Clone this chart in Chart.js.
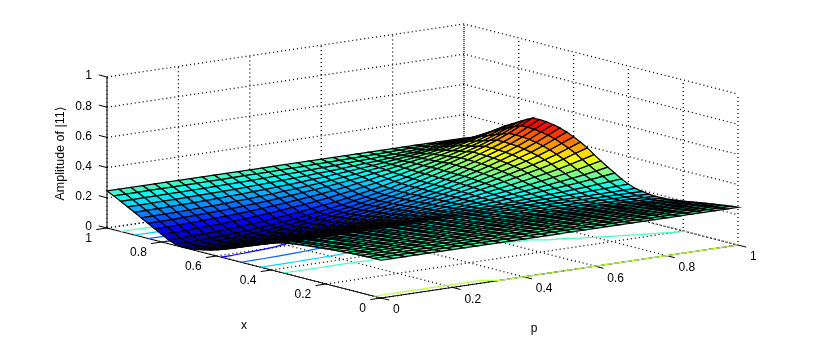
<!DOCTYPE html>
<html>
<head>
<meta charset="utf-8">
<title>Amplitude of |11⟩</title>
<script src="https://cdn.jsdelivr.net/npm/chart.js@4"></script>
<style>
    html, body { margin: 0; padding: 0; background: #fff; }
    canvas { display: block; }
</style>
</head>
<body>
<canvas id="surfaceChart" width="816" height="339"></canvas>
<script>
// tick labels of the three axes
const pTicks = [0, 0.2, 0.4, 0.6, 0.8, 1];
const xTicks = [0, 0.2, 0.4, 0.6, 0.8, 1];
const zTicks = [0, 0.2, 0.4, 0.6, 0.8, 1];
const contourLevels = [0.05, 0.1, 0.15, 0.2, 0.25, 0.3, 0.35, 0.4, 0.45];

// amplitude, in thousandths
// one row per p step (0 to 1 in 30 steps), one value per x step (0 to 1 in 40 steps)
const amplitude = [
    [250,250,249,248,246,243,240,237,233,229,225,220,215,209,203,192,177,160,143,125,108,90,72,55,40,27,17,9,4,3,8,25,50,75,100,125,150,175,200,224,245],
    [250,250,249,248,246,243,240,237,233,229,225,220,215,209,203,192,177,160,143,126,109,91,73,56,41,28,18,10,5,4,9,26,51,76,101,126,151,175,200,224,245],
    [250,250,249,248,246,243,240,237,233,229,225,220,215,209,203,192,177,161,144,126,110,92,75,58,43,30,21,13,8,7,12,29,53,78,102,127,151,176,201,224,245],
    [250,250,249,248,246,243,240,237,233,228,224,219,215,209,203,192,178,161,145,127,111,94,76,60,46,33,23,16,11,10,15,31,56,80,104,128,153,177,201,225,245],
    [250,250,249,248,246,242,239,236,232,228,224,219,214,208,203,192,178,162,146,129,113,96,79,63,49,36,27,19,15,14,19,35,59,83,106,130,154,178,202,225,245],
    [250,250,249,248,245,242,239,236,232,228,224,219,214,208,203,192,178,162,147,130,115,98,82,66,52,40,31,24,19,18,23,39,62,86,109,132,156,179,202,225,245],
    [250,250,249,247,245,242,239,236,232,227,223,218,214,208,203,192,179,163,148,132,117,101,85,70,57,45,36,29,24,24,28,44,67,89,112,135,158,180,203,226,245],
    [250,250,249,247,245,242,238,235,231,227,223,218,213,208,202,192,179,164,150,134,120,105,89,75,62,51,42,35,31,30,35,49,72,94,116,138,160,182,204,226,245],
    [250,250,248,247,245,241,238,235,231,226,222,217,213,207,202,193,180,166,152,137,123,109,94,80,68,57,49,42,38,37,42,56,78,99,121,142,163,184,206,227,245],
    [250,250,248,247,244,241,238,234,230,226,222,217,212,207,202,193,181,167,154,140,127,113,99,86,75,64,57,50,46,46,50,64,84,105,126,146,166,186,207,227,245],
    [250,249,248,246,244,240,237,234,229,225,221,216,212,207,202,193,181,168,156,143,131,118,105,93,82,73,65,59,56,55,59,72,92,112,131,150,170,189,208,228,245],
    [250,249,248,246,243,240,236,233,229,224,220,215,211,206,202,193,182,170,159,147,136,124,112,101,91,82,75,69,66,65,70,82,100,119,137,155,173,192,210,229,245],
    [250,249,248,246,243,239,236,232,228,223,219,214,210,206,201,193,183,172,162,151,141,130,119,109,100,92,86,80,77,77,81,92,109,127,144,161,178,195,212,229,245],
    [250,249,247,245,242,239,235,231,227,223,218,214,209,205,201,194,184,174,165,155,146,136,127,118,110,102,97,92,89,89,93,103,119,135,152,167,182,198,214,230,245],
    [250,249,247,245,242,238,234,231,226,222,217,213,209,204,201,194,185,176,168,159,151,143,135,127,120,113,108,104,102,101,105,114,129,144,159,173,187,201,216,231,245],
    [250,249,247,245,241,237,234,230,225,220,216,211,208,204,200,194,186,178,172,164,158,151,145,138,132,126,122,119,116,116,120,127,141,154,168,180,193,205,218,232,245],
    [250,249,247,244,241,237,233,229,224,219,215,210,207,203,200,194,188,181,176,169,164,159,154,149,143,139,136,133,131,131,134,141,153,165,177,187,198,209,221,233,245],
    [250,249,246,244,240,236,232,228,223,218,213,209,206,202,200,195,189,184,180,175,172,168,165,161,157,154,152,149,148,148,151,156,167,177,187,196,205,213,224,235,245],
    [250,248,246,243,239,235,231,226,221,217,212,208,204,201,199,195,191,186,184,181,180,177,176,174,171,169,168,166,165,165,168,172,180,189,197,204,211,218,226,236,245],
    [250,248,246,242,239,234,230,225,220,215,211,206,203,200,199,195,192,190,189,188,188,188,189,188,187,186,186,185,185,185,187,190,196,203,209,214,218,223,230,237,245],
    [250,248,245,242,238,233,229,224,219,214,209,205,202,200,198,196,194,193,194,195,197,199,202,203,203,204,204,204,204,205,207,207,212,216,221,223,226,228,233,239,245],
    [250,248,245,241,237,232,227,222,217,212,207,203,200,199,198,196,196,196,200,202,207,211,216,219,221,223,225,226,226,227,229,227,230,232,234,234,234,234,236,240,245],
    [250,248,245,241,236,231,226,221,216,211,206,202,199,198,198,197,198,200,206,210,217,223,230,235,239,243,246,247,248,249,251,248,248,248,248,245,243,240,240,242,245],
    [250,247,244,240,235,230,225,219,214,209,204,200,197,196,197,197,200,204,212,219,227,236,246,253,259,264,268,271,272,274,275,270,267,265,262,257,252,247,244,244,245],
    [250,247,244,239,234,229,223,218,212,207,202,198,196,195,196,197,202,208,218,227,238,249,262,271,279,286,291,295,297,298,299,292,287,282,277,269,261,253,248,246,245],
    [250,247,243,238,233,227,222,216,210,205,200,196,194,194,196,198,204,212,225,236,250,264,279,291,301,309,316,321,324,325,326,317,309,301,293,282,271,260,252,248,245],
    [250,246,243,237,232,226,220,214,208,203,197,194,192,193,195,198,206,217,232,246,262,278,296,311,323,333,342,347,351,352,352,341,331,320,310,295,281,267,257,250,245],
    [250,246,242,236,231,225,218,212,206,200,195,192,190,191,194,199,209,222,239,256,275,294,315,332,347,359,369,376,380,382,382,368,354,341,327,310,293,275,262,252,245],
    [250,246,241,235,229,223,216,210,204,198,192,189,188,190,194,200,211,227,248,268,290,313,337,357,374,389,401,409,414,416,415,399,382,365,348,327,305,284,267,254,245],
    [250,245,241,234,228,221,214,208,201,195,189,186,186,188,193,200,215,234,258,281,308,334,363,386,406,424,437,447,453,456,454,434,413,392,371,346,320,295,274,257,245],
    [250,245,240,233,226,219,212,205,198,192,186,183,183,186,192,201,218,240,268,295,325,355,388,415,438,458,474,485,492,495,493,470,445,420,395,365,335,305,280,260,245],
];

const pSteps = amplitude.length - 1;
const xSteps = amplitude[0].length - 1;
const surfaceMax = 0.545;
const contourMax = 0.45;

// fixed view of the 3d box, in canvas units
function project(p, x, z) {
    return {
        x: 381 + 357 * p - 274 * x,
        y: 298 - 53 * p - 70 * x - 151 * z,
    };
}

function zAt(j, i) {
    return amplitude[j][i] / 1000;
}

// jet colormap
function jet(value, max) {
    const t = Math.max(0, Math.min(1, value / max));
    const chan = (c) => Math.round(255 * Math.max(0, Math.min(1, 1.5 - Math.abs(4 * t - c))));
    return `rgb(${chan(3)},${chan(2)},${chan(1)})`;
}

function lineDataset(points, color, dash, width) {
    return {
        data: points,
        showLine: true,
        fill: false,
        borderColor: color,
        borderWidth: width || 1,
        borderDash: dash || [],
        pointRadius: 0,
        tension: 0,
    };
}

// surface cells, nearest first because dataset 0 is painted last
function surfaceDatasets() {
    const cells = [];
    for (let j = 0; j < pSteps; j++) {
        for (let i = 0; i < xSteps; i++) {
            const p0 = j / pSteps, p1 = (j + 1) / pSteps;
            const x0 = i / xSteps, x1 = (i + 1) / xSteps;
            const a = zAt(j, i), b = zAt(j + 1, i), c = zAt(j + 1, i + 1), d = zAt(j, i + 1);
            cells.push({
                data: [project(p0, x0, a), project(p1, x0, b), project(p1, x1, c), project(p0, x1, d), project(p0, x0, a)],
                showLine: true,
                fill: 'shape',
                backgroundColor: jet((a + b + c + d) / 4, surfaceMax),
                borderColor: '#000',
                borderWidth: 1.25,
                pointRadius: 0,
                tension: 0,
            });
        }
    }
    return cells;
}

// contour lines on the floor, taken from the same table
function contourDataset(level) {
    const pts = [];
    const addCut = (list, p0, x0, z0, p1, x1, z1) => {
        if ((z0 >= level) !== (z1 >= level)) {
            const t = (level - z0) / (z1 - z0);
            list.push(project(p0 + t * (p1 - p0), x0 + t * (x1 - x0), 0));
        }
    };
    for (let j = 0; j < pSteps; j++) {
        for (let i = 0; i < xSteps; i++) {
            const p0 = j / pSteps, p1 = (j + 1) / pSteps;
            const x0 = i / xSteps, x1 = (i + 1) / xSteps;
            const a = zAt(j, i), b = zAt(j + 1, i), c = zAt(j + 1, i + 1), d = zAt(j, i + 1);
            const cuts = [];
            addCut(cuts, p0, x0, a, p1, x0, b);
            addCut(cuts, p1, x0, b, p1, x1, c);
            addCut(cuts, p1, x1, c, p0, x1, d);
            addCut(cuts, p0, x1, d, p0, x0, a);
            for (let k = 0; k + 1 < cuts.length; k += 2) {
                pts.push(cuts[k], cuts[k + 1], { x: NaN, y: NaN });
            }
        }
    }
    return lineDataset(pts, jet(level, contourMax), [], 1.2);
}

// dotted grid on the floor and the two back walls, plus the solid axes
function boxDatasets() {
    const dots = [1, 3];
    const dotWidth = 1.3;
    const sets = [];
    pTicks.forEach((p) => {
        sets.push(lineDataset([project(p, 0, 0), project(p, 1, 0), project(p, 1, 1)], '#000', dots, dotWidth));
    });
    xTicks.forEach((x) => {
        sets.push(lineDataset([project(0, x, 0), project(1, x, 0), project(1, x, 1)], '#000', dots, dotWidth));
    });
    zTicks.forEach((z) => {
        sets.push(lineDataset([project(0, 1, z), project(1, 1, z), project(1, 0, z)], '#000', dots, dotWidth));
    });
    sets.push(lineDataset([project(0, 1, 0), project(0, 1, 1)], '#000'));
    sets.push(lineDataset([project(0, 1, 0), project(0, 0, 0), project(1, 0, 0)], '#000'));
    pTicks.forEach((p) => {
        sets.push(lineDataset([project(p, 0, 0), project(p, -0.03, 0)], '#000'));
    });
    xTicks.forEach((x) => {
        sets.push(lineDataset([project(0, x, 0), project(-0.03, x, 0)], '#000'));
    });
    zTicks.forEach((z) => {
        sets.push(lineDataset([project(0, 1, z), project(0, 1.03, z)], '#000'));
    });
    return sets;
}

// tick labels and axis titles
const boxLabels = {
    id: 'boxLabels',
    afterDraw(chart) {
        const { ctx, scales } = chart;
        const toPx = (pt) => ({ x: scales.x.getPixelForValue(pt.x), y: scales.y.getPixelForValue(pt.y) });
        ctx.save();
        ctx.fillStyle = '#000';
        ctx.textBaseline = 'middle';
        ctx.font = '12px "Liberation Sans", Arial, sans-serif';

        ctx.textAlign = 'right';
        zTicks.forEach((z) => {
            const pos = toPx(project(0, 1, z));
            ctx.fillText(String(z), pos.x - 15, pos.y - 1);
        });
        xTicks.forEach((x) => {
            const pos = toPx(project(0, x, 0));
            ctx.fillText(String(x), pos.x - 15, pos.y + 11);
        });
        ctx.textAlign = 'left';
        pTicks.forEach((p) => {
            const pos = toPx(project(p, 0, 0));
            ctx.fillText(String(p), pos.x + 12, pos.y + 12);
        });

        ctx.textAlign = 'center';
        ctx.fillText('x', 244, 326);
        ctx.fillText('p', 534, 329);
        ctx.translate(61, 153.5);
        ctx.rotate(-Math.PI / 2);
        ctx.font = '12.5px "Liberation Sans", "DejaVu Sans", sans-serif';
        ctx.fillText('Amplitude of |11⟩', 0, 0);
        ctx.restore();
    },
};

const surfaceCtx = document.getElementById('surfaceChart').getContext('2d');

const surfaceChart = new Chart(surfaceCtx, {
    type: 'scatter',
    data: {
        datasets: [
            ...surfaceDatasets(),
            ...contourLevels.map(contourDataset),
            ...boxDatasets(),
        ],
    },
    options: {
        responsive: false,
        animation: false,
        events: [],
        layout: { padding: 0 },
        plugins: {
            legend: { display: false },
            tooltip: { enabled: false },
        },
        scales: {
            x: { type: 'linear', display: false, min: 0, max: 816 },
            y: { type: 'linear', display: false, min: 0, max: 339, reverse: true },
        },
    },
    plugins: [boxLabels],
});
</script>
</body>
</html>
